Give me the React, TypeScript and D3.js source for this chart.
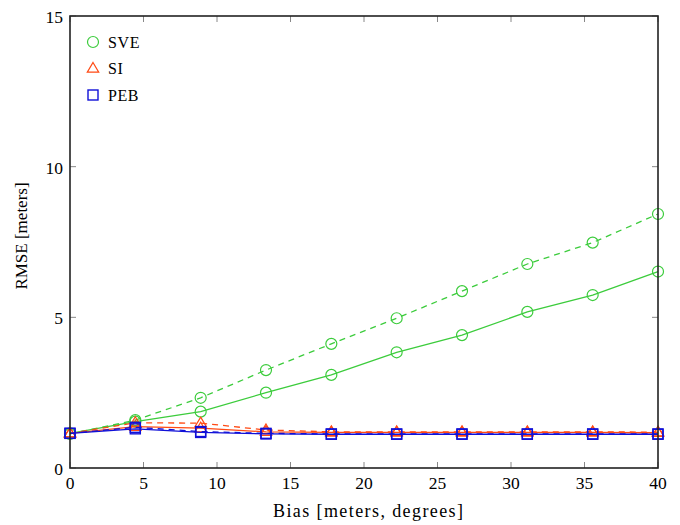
import React from "react";
import * as d3 from "d3";

const xs = [0, 4.444, 8.889, 13.333, 17.778, 22.222, 26.667, 31.111, 35.556, 40];
const sveSolid = [1.15, 1.54, 1.87, 2.5, 3.09, 3.84, 4.41, 5.18, 5.74, 6.52];
const sveDashed = [1.13, 1.59, 2.33, 3.25, 4.12, 4.97, 5.87, 6.77, 7.48, 8.43];
const siSolid = [1.15, 1.37, 1.32, 1.2, 1.18, 1.18, 1.18, 1.18, 1.18, 1.17];
const siDashed = [1.15, 1.5, 1.49, 1.26, 1.2, 1.2, 1.2, 1.2, 1.2, 1.19];
const pebSolid = [1.15, 1.3, 1.18, 1.13, 1.12, 1.12, 1.12, 1.12, 1.12, 1.12];
const pebDashed = [1.15, 1.35, 1.21, 1.15, 1.13, 1.13, 1.13, 1.13, 1.13, 1.13];
const xTicks = [0, 5, 10, 15, 20, 25, 30, 35, 40];
const yTicks = [0, 5, 10, 15];
const legendNames = ["SVE", "SI", "PEB"];

const GREEN = "#3ccc3c";
const RED = "#ff4a14";
const BLUE = "#1010d8";
const FONT = "'Liberation Serif', 'DejaVu Serif', serif";

export default function App() {
  const W = 680, H = 525;
  const L = 70, R = 658, T = 16, B = 468;
  const x = d3.scaleLinear().domain([0, 40]).range([L, R]);
  const y = d3.scaleLinear().domain([0, 15]).range([B, T]);
  const line = d3.line<number>().x((_, i) => x(xs[i])).y((d) => y(d));

  const circle = (cx: number, cy: number, k: string) => (
    <circle key={k} cx={cx} cy={cy} r={5.5} fill="none" stroke={GREEN} strokeWidth={1.2} />
  );
  const tri = (cx: number, cy: number, k: string) => {
    const s = 6;
    return (
      <path key={k} d={`M${cx},${cy - s} L${cx + s * 0.95},${cy + s * 0.6} L${cx - s * 0.95},${cy + s * 0.6} Z`} fill="none" stroke={RED} strokeWidth={1.2} />
    );
  };
  const sq = (cx: number, cy: number, k: string) => (
    <rect key={k} x={cx - 5} y={cy - 5} width={10} height={10} fill="none" stroke={BLUE} strokeWidth={1.4} />
  );

  const series = [
    { d: sveDashed, c: GREEN, dash: "6,5", m: circle },
    { d: sveSolid, c: GREEN, dash: undefined, m: circle },
    { d: siDashed, c: RED, dash: "6,5", m: tri },
    { d: siSolid, c: RED, dash: undefined, m: tri },
    { d: pebDashed, c: BLUE, dash: "6,5", m: sq },
    { d: pebSolid, c: BLUE, dash: undefined, m: sq },
  ];

  return (
    <svg width={W} height={H} style={{ position: "absolute", left: 0, top: 0 }} fontFamily={FONT}>
      <rect x={0} y={0} width={W} height={H} fill="white" />
      {xTicks.map((t) => (
        <g key={"xt" + t}>
          <line x1={x(t)} x2={x(t)} y1={B} y2={B - 6} stroke="#888" />
          <line x1={x(t)} x2={x(t)} y1={T} y2={T + 6} stroke="#888" />
          <text x={x(t)} y={B + 21} textAnchor="middle" fontSize={17.5}>{t}</text>
        </g>
      ))}
      {yTicks.map((t) => (
        <g key={"yt" + t}>
          <line x1={L} x2={L + 6} y1={y(t)} y2={y(t)} stroke="#888" />
          <line x1={R} x2={R - 6} y1={y(t)} y2={y(t)} stroke="#888" />
          <text x={L - 7} y={y(t) + 7} textAnchor="end" fontSize={17.5}>{t}</text>
        </g>
      ))}
      {series.map((s, i) => (
        <g key={"s" + i}>
          <path d={line(s.d) || ""} fill="none" stroke={s.c} strokeWidth={1.3} strokeDasharray={s.dash} />
          {s.d.map((v, j) => s.m(x(xs[j]), y(v), `m${i}-${j}`))}
        </g>
      ))}
      <rect x={L} y={T} width={R - L} height={B - T} fill="none" stroke="#222" strokeWidth={1.6} />
      {legendNames.map((n, i) => {
        const ly = 42 + i * 26.5;
        const m = i === 0 ? circle(93, ly, "lc") : i === 1 ? tri(93, ly, "lt") : sq(93, ly, "ls");
        return (
          <g key={"lg" + n}>
            {m}
            <text x={108} y={ly + 5.5} fontSize={16} letterSpacing={0.6}>{n}</text>
          </g>
        );
      })}
      <text x={368} y={517} textAnchor="middle" fontSize={18} textLength={190} lengthAdjust="spacing">Bias [meters, degrees]</text>
      <text transform={`translate(27,236) rotate(-90)`} textAnchor="middle" fontSize={17}>RMSE [meters]</text>
    </svg>
  );
}
